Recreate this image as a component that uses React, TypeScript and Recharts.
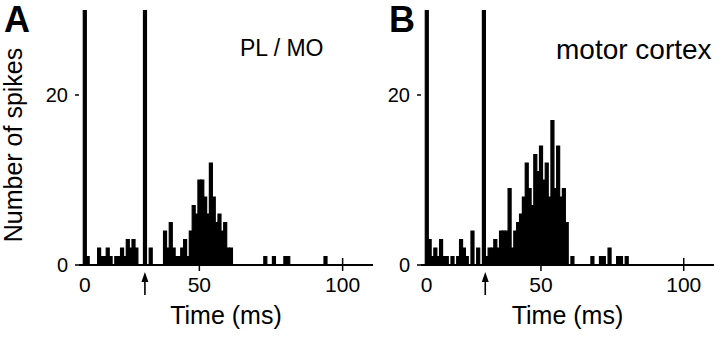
import { BarChart, Bar, XAxis, YAxis, Label } from "recharts";

// spike counts per 1 ms bin
const timesA = [
  10, 11, 15, 16, 17, 18, 19, 21, 22, 23, 24, 25, 26, 27, 28, 31, 33,
  38, 39, 40, 41, 42, 43, 44, 45, 46, 47, 48, 49, 50, 51, 52, 53, 54, 55, 56, 57, 58, 59, 60, 61,
  73, 76, 80, 81, 94,
];
const spikesA = [
  30, 1, 2, 1, 1, 2, 1, 1, 1, 2, 1, 3, 2, 3, 2, 30, 2,
  4, 2, 5, 2, 1, 1, 2, 3, 1, 4, 7, 6, 10, 10, 8, 6, 12, 8, 5, 6, 4, 5, 2, 2,
  1, 1, 1, 1, 1,
];

const timesB = [
  10, 11, 12, 13, 14, 15, 16, 17, 19, 21, 22, 23, 24, 26, 28, 30,
  31, 32, 33, 34, 35, 36, 37, 38, 39, 40, 41, 42, 43, 44, 45, 46, 47, 48, 49, 50,
  51, 52, 53, 54, 55, 56, 57, 58, 59, 61,
  68, 71, 72, 74, 77, 78, 80,
];
const spikesB = [
  30, 3, 1, 2, 1, 3, 1, 1, 1, 1, 3, 2, 1, 4, 2, 30,
  1, 2, 2, 3, 2, 4, 4, 4, 9, 2, 4, 5, 6, 8, 12, 9, 7, 13, 11, 14,
  10, 12, 8, 17, 9, 14, 8, 9, 5, 1,
  1, 1, 1, 2, 1, 1, 1,
];

const timeTicks = [10, 50, 100];
const timeTickLabels = ["0", "50", "100"];
const arrowA = 31;
const arrowB = 30.5;
const countTicks = [0, 20];

const FONT = '"Liberation Sans", Arial, Helvetica, sans-serif';

const dataA = timesA.map((t, i) => ({ t, n: spikesA[i] }));
const dataB = timesB.map((t, i) => ({ t, n: spikesB[i] }));

function TimeTick(props: any) {
  const { x, y, payload, arrowAt } = props;
  const v = payload.value;
  if (v === arrowAt) {
    return (
      <g>
        <line x1={x} x2={x} y1={y + 14} y2={y + 30} stroke="#000" strokeWidth={1.6} />
        <path d={`M${x - 3.5},${y + 17} L${x},${y + 7} L${x + 3.5},${y + 17} Z`} fill="#000" />
      </g>
    );
  }
  const label = timeTickLabels[timeTicks.indexOf(v)];
  return (
    <g>
      {v !== timeTicks[0] && (
        <line x1={x} x2={x} y1={y - (v === 100 ? 7 : 0)} y2={y + 6} stroke="#000" strokeWidth={1.5} />
      )}
      <text x={x} y={y + 27} textAnchor="middle" fontSize={21} fontFamily={FONT} fill="#000">
        {label}
      </text>
    </g>
  );
}

function Histogram({ data, width, yWidth, arrowAt }: any) {
  return (
    <BarChart
      width={width}
      height={355}
      data={data}
      margin={{ top: 10, right: 6, bottom: 0, left: 0 }}
      barCategoryGap={0}
      barGap={0}
    >
      <XAxis
        dataKey="t"
        type="number"
        domain={[8, 110.6]}
        allowDataOverflow
        ticks={[timeTicks[0], arrowAt, timeTicks[1], timeTicks[2]]}
        interval={0}
        height={90}
        tickLine={false}
        tickSize={0}
        tickMargin={0}
        axisLine={{ stroke: "#000", strokeWidth: 2 }}
        tick={<TimeTick arrowAt={arrowAt} />}
      >
        <Label
          value="Time (ms)"
          position="insideBottom"
          offset={31}
          style={{ fontSize: 25, fontFamily: FONT, fill: "#000" }}
        />
      </XAxis>
      <YAxis
        type="number"
        domain={[0, 30]}
        allowDataOverflow
        ticks={countTicks}
        width={yWidth}
        axisLine={false}
        tickSize={4}
        tickMargin={7}
        tickLine={{ stroke: "#000", strokeWidth: 1.5 }}
        tick={{ fontSize: 20, fontFamily: FONT, fill: "#000" }}
      />
      <Bar dataKey="n" fill="#000" stroke="#000" strokeWidth={1.2} isAnimationActive={false} />
    </BarChart>
  );
}

export default function App() {
  return (
    <div style={{ position: "absolute", left: 0, top: 0, width: 720, height: 355, background: "#fff" }}>
      <div style={{ position: "absolute", left: 0, top: 0 }}>
        <Histogram data={dataA} width={379} yWidth={79} arrowAt={arrowA} />
      </div>
      <div style={{ position: "absolute", left: 380, top: 0 }}>
        <Histogram data={dataB} width={340} yWidth={41} arrowAt={arrowB} />
      </div>
      <svg
        width={720}
        height={355}
        style={{ position: "absolute", left: 0, top: 0, pointerEvents: "none" }}
        fontFamily={FONT}
      >
        <text x={4} y={32} fontSize={36} fontWeight="bold">A</text>
        <text x={389} y={32} fontSize={36} fontWeight="bold">B</text>
        <text x={240} y={56} fontSize={23}>PL / MO</text>
        <text x={556} y={59} fontSize={28}>motor cortex</text>
        <text
          transform="translate(22,145) rotate(-90)"
          textAnchor="middle"
          fontSize={25}
        >
          Number of spikes
        </text>
      </svg>
    </div>
  );
}
